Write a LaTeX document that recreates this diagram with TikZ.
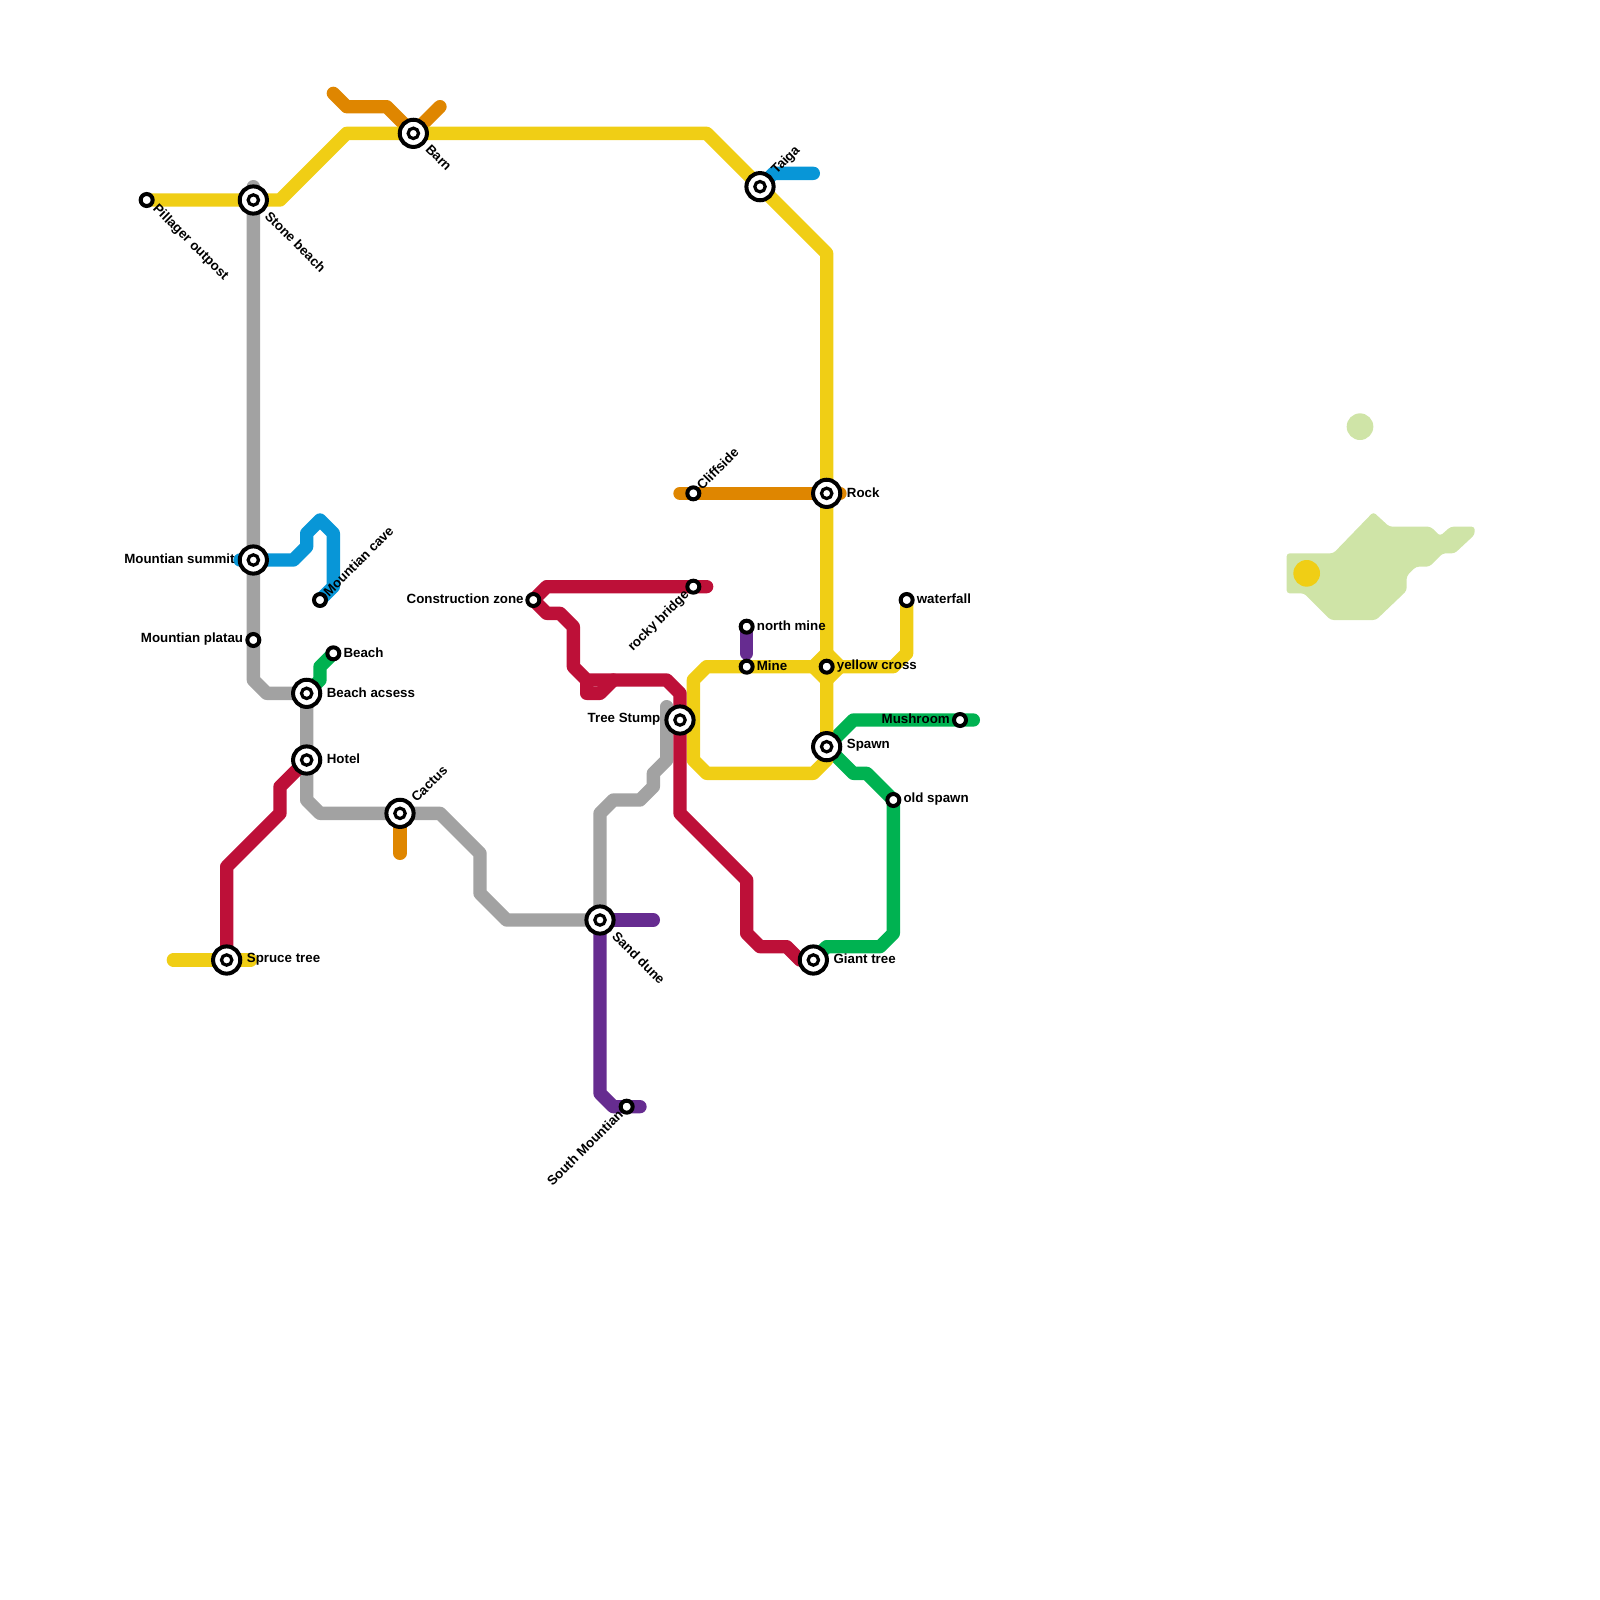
\documentclass[tikz,border=0pt]{standalone}
\usepackage{fontspec}
\setmainfont{Liberation Sans}
\pgfdeclarelayer{lines}
\pgfsetlayers{lines,main}
\definecolor{myellow}{HTML}{F0CE15}
\definecolor{mred}{HTML}{BD1038}
\definecolor{morange}{HTML}{DF8600}
\definecolor{mgreen}{HTML}{00B251}
\definecolor{mblue}{HTML}{0896D7}
\definecolor{mpurple}{HTML}{662C90}
\definecolor{mgray}{HTML}{A2A2A2}
\definecolor{mland}{HTML}{CFE4A7}
\tikzset{
  xfer/.style={circle,inner sep=0pt,minimum size=31pt},
  halt/.style={circle,inner sep=0pt,minimum size=16pt},
  ringline/.style={draw=black,fill=white,line width=4pt},
  lab/.style={font=\fontsize{13.33}{15}\selectfont\bfseries,inner sep=0pt,text=black},
  metro/.style={line width=13.333pt,line cap=round,line join=round},
}
\begin{document}
\begin{tikzpicture}[x=13.3333pt,y=-13.3333pt]
\useasboundingbox (0,0) rectangle (120,120);
% stations
\node[halt] (pillager) at (11,15) {};
\node[xfer] (stone) at (19,15) {};
\node[xfer] (barn) at (31,10) {};
\node[xfer] (taiga) at (57,14) {};
\node[xfer] (rock) at (62,37) {};
\node[halt] (cliff) at (52,37) {};
\node[halt] (rocky) at (52,44) {};
\node[halt] (constr) at (40,45) {};
\node[halt] (nmine) at (56,47) {};
\node[halt] (mine) at (56,50) {};
\node[halt] (ycross) at (62,50) {};
\node[halt] (water) at (68,45) {};
\node[halt] (mush) at (72,54) {};
\node[xfer] (spawn) at (62,56) {};
\node[halt] (oldsp) at (67,60) {};
\node[xfer] (stump) at (51,54) {};
\node[xfer] (giant) at (61,72) {};
\node[xfer] (dune) at (45,69) {};
\node[halt] (south) at (47,83) {};
\node[xfer] (cactus) at (30,61) {};
\node[xfer] (hotel) at (23,57) {};
\node[xfer] (bacc) at (23,52) {};
\node[halt] (beach) at (25,49) {};
\node[halt] (cave) at (24,45) {};
\node[xfer] (summit) at (19,42) {};
\node[halt] (platau) at (19,48) {};
\node[xfer] (spruce) at (17,72) {};
\foreach \st in {stone,barn,taiga,rock,spawn,stump,giant,dune,cactus,hotel,bacc,summit,spruce}{
  \draw[ringline] (\st.center) circle (13.6pt);
  \draw[black,fill=white,line width=3.2pt] (\st.center) circle (5.2pt);
}
\foreach \st in {pillager,cliff,rocky,constr,nmine,mine,ycross,water,mush,oldsp,south,beach,cave,platau}
  \draw[ringline] (\st.center) circle (6pt);
% lines
\begin{pgfonlayer}{lines}
\fill[mland,rounded corners=3pt] (103,38.4) -- (104.2,39.5) -- (107.3,39.5) -- (108,40.2) -- (108.8,39.5) -- (110.6,39.5) -- (110.6,40.1) -- (109.1,41.5) -- (108.2,41.5) -- (107.2,42.5) -- (106.2,42.5) -- (105.5,43.2) -- (105.5,44.3) -- (103.2,46.5) -- (99.8,46.5) -- (97.8,44.5) -- (96.5,44.5) -- (96.5,41.5) -- (100,41.5) -- cycle;
\fill[mland] (102,32) circle (13.333pt);
\fill[myellow] (98,43) circle (13.333pt);
\draw[metro,mgray] (19,14) -- (summit.center) -- (platau.center) -- (19,51) -- (20,52) -- (bacc.center) -- (hotel.center) -- (23,60) -- (24,61) -- (cactus.center) -- (33,61) -- (36,64) -- (36,67) -- (38,69) -- (dune.center) -- (45,61) -- (46,60) -- (48,60) -- (49,59) -- (49,58) -- (50,57) -- (50,53);
\draw[metro,morange] (25,7) -- (26,8) -- (29,8) -- (barn.center) -- (33,8);
\draw[metro,morange] (cactus.center) -- (30,64);
\draw[metro,mblue] (summit.center) ++(-1,0) -- (22,42) -- (23,41) -- (23,40) -- (24,39) -- (25,40) -- (25,44) -- (cave.center);
\draw[metro,mblue] (taiga.center) -- (58,13) -- (61,13);
\draw[metro,mpurple] (nmine.center) -- (56,49);
\draw[metro,mpurple] (dune.center) -- (49,69);
\draw[metro,mpurple] (dune.center) -- (45,82) -- (46,83) -- (south.center) -- (48,83);
\draw[metro,mgreen] (beach.center) -- (24,50) -- (24,51) -- (bacc.center);
\draw[metro,mgreen] (spawn.center) -- (64,54) -- (mush.center) -- (73,54);
\draw[metro,mgreen] (spawn.center) -- (64,58) -- (65,58) -- (oldsp.center) -- (67,70) -- (66,71) -- (62,71) -- (giant.center);
\draw[metro,myellow] (pillager.center) -- (stone.center) -- (21,15) -- (26,10) -- (barn.center) -- (53,10) -- (taiga.center) -- (62,19) -- (rock.center) -- (ycross.center) -- (spawn.center);
\draw[metro,myellow] (water.center) -- (68,49) -- (67,50) -- (ycross.center) -- (mine.center) -- (53,50) -- (52,51) -- (52,57) -- (53,58) -- (61,58) -- (62,57) -- (spawn.center);
\draw[metro,myellow] (61,50) -- (62,49) -- (63,50) -- (62,51) -- cycle;
\draw[metro,myellow] (13,72) -- (spruce.center) -- (18.8,72);
\draw[metro,morange] (cliff.center) ++(-1,0) -- (rock.center) -- (63,37);
\draw[metro,mred] (spruce.center) -- (17,65) -- (21,61) -- (21,59) -- (hotel.center);
\draw[metro,mred] (53,44) -- (rocky.center) -- (41,44) -- (constr.center) -- (41,46) -- (42,46) -- (43,47) -- (43,50) -- (44,51) -- (50,51) -- (51,52) -- (stump.center) -- (51,61) -- (56,66) -- (56,70) -- (57,71) -- (59,71) -- (60,72) -- (giant.center);
\draw[metro,mred] (44,51) -- (44,52) -- (45,52) -- (46,51);
\end{pgfonlayer}
% labels
\node[lab,rotate=-45,anchor=west] (lpillager) at ([shift={(8pt,-7pt)}]pillager.center) {Pillager outpost};
\node[lab,rotate=-45,anchor=west] (lstone) at ([shift={(14pt,-13.5pt)}]stone.center) {Stone beach};
\node[lab,rotate=-45,anchor=west] (lbarn) at ([shift={(14.5pt,-13.5pt)}]barn.center) {Barn};
\node[lab,rotate=-45,anchor=west] (ldune) at ([shift={(14.5pt,-13.5pt)}]dune.center) {Sand dune};
\node[lab,rotate=45,anchor=west] (ltaiga) at ([shift={(14pt,14pt)}]taiga.center) {Taiga};
\node[lab,rotate=45,anchor=west] (lcactus) at ([shift={(13.5pt,13.5pt)}]cactus.center) {Cactus};
\node[lab,rotate=45,anchor=west] (lcave) at ([shift={(5.5pt,6pt)}]cave.center) {Mountian cave};
\node[lab,rotate=45,anchor=west] (lcliff) at ([shift={(5.5pt,6pt)}]cliff.center) {Cliffside};
\node[lab,rotate=45,anchor=east] (lrocky) at ([shift={(-6pt,-6pt)}]rocky.center) {rocky bridge};
\node[lab,rotate=45,anchor=east] (lsouth) at ([shift={(-6pt,-5.5pt)}]south.center) {South Mountian};
\node[lab,anchor=west] (lrock) at ([shift={(20pt,1pt)}]rock.center) {Rock};
\node[lab,anchor=west] (lspawn) at ([shift={(20pt,1pt)}]spawn.center) {Spawn};
\node[lab,anchor=west] (lgiant) at ([shift={(20pt,1pt)}]giant.center) {Giant tree};
\node[lab,anchor=west] (lspruce) at ([shift={(20pt,1pt)}]spruce.center) {Spruce tree};
\node[lab,anchor=west] (lhotel) at ([shift={(20pt,1pt)}]hotel.center) {Hotel};
\node[lab,anchor=west] (lbacc) at ([shift={(20pt,1pt)}]bacc.center) {Beach acsess};
\node[lab,anchor=west] (lbeach) at ([shift={(10pt,1pt)}]beach.center) {Beach};
\node[lab,anchor=west] (lnmine) at ([shift={(10pt,1pt)}]nmine.center) {north mine};
\node[lab,anchor=west] (lmine) at ([shift={(10pt,1pt)}]mine.center) {Mine};
\node[lab,anchor=west] (lycross) at ([shift={(10pt,1pt)}]ycross.center) {yellow cross};
\node[lab,anchor=west] (lwater) at ([shift={(10pt,1pt)}]water.center) {waterfall};
\node[lab,anchor=west] (loldsp) at ([shift={(10pt,1pt)}]oldsp.center) {old spawn};
\node[lab,anchor=east] (lsummit) at ([shift={(-18.5pt,1pt)}]summit.center) {Mountian summit};
\node[lab,anchor=east] (lstump) at ([shift={(-19.5pt,1pt)}]stump.center) {Tree Stump};
\node[lab,anchor=east] (lplatau) at ([shift={(-10pt,1pt)}]platau.center) {Mountian platau};
\node[lab,anchor=east] (lconstr) at ([shift={(-9.5pt,1pt)}]constr.center) {Construction zone};
\node[lab,anchor=east] (lmush) at ([shift={(-10pt,1pt)}]mush.center) {Mushroom};
\end{tikzpicture}
\end{document}
